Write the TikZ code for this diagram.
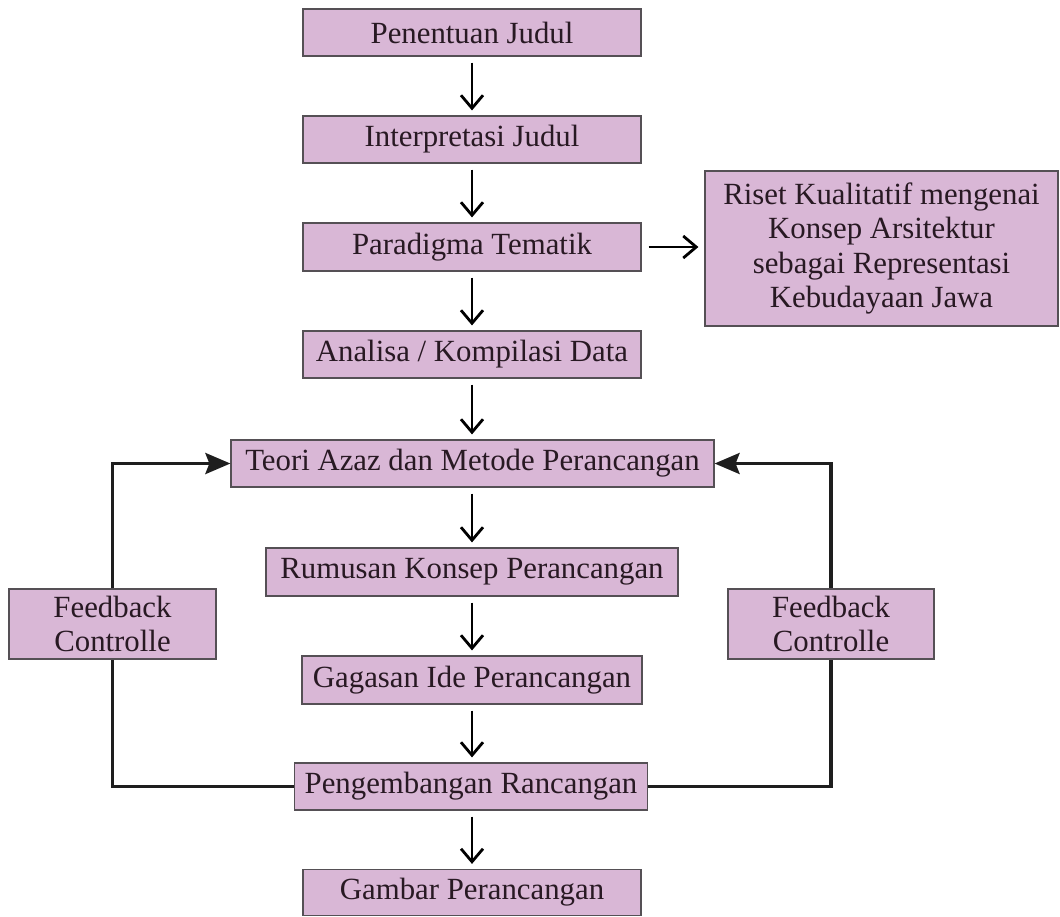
\documentclass[tikz,border=0pt]{standalone}
\usepackage{fontspec}
\setmainfont{Liberation Serif}
\usetikzlibrary{arrows.meta}
\definecolor{boxfill}{RGB}{217,183,214}
\definecolor{boxline}{RGB}{85,80,85}
\definecolor{txt}{RGB}{40,25,35}
\definecolor{conn}{RGB}{30,30,30}
\begin{document}
\begin{tikzpicture}[x=0.5pt,y=-0.5pt,
  box/.style={draw=boxline, fill=boxfill, line width=0.6pt, inner sep=0pt,
    align=center, text=txt, font=\fontsize{15.4}{17.3}\selectfont,
    minimum height=23.5pt},
  flow/.style={draw=black, line width=1.4pt, -{Straight Barb[length=6.5pt,width=11pt,line width=1.4pt]},
    shorten <=3pt, shorten >=2.5pt},
  fb/.style={draw=conn, line width=1.7pt},
  fbarrow/.style={fb, -{Stealth[length=12.5pt,width=10.5pt,inset=2pt]}}]
\useasboundingbox (0,0) rectangle (1060,916);
\node[box, minimum width=169pt] (n1) at (472,32.5) {Penentuan Judul};
\node[box, minimum width=169pt] (n2) at (472,139.5) {Interpretasi Judul};
\node[box, minimum width=169pt, minimum height=24pt] (n3) at (472,247) {Paradigma Tematik};
\node[box, minimum width=169pt] (n4) at (472,354.5) {Analisa / Kompilasi Data};
\node[box, minimum width=241.5pt] (n5) at (472.5,463.5) {Teori Azaz dan Metode Perancangan};
\node[box, minimum width=206pt, minimum height=24pt] (n6) at (472,572) {Rumusan Konsep Perancangan};
\node[box, minimum width=170pt, minimum height=24pt] (n7) at (472,680) {Gagasan Ide Perancangan};
\node[box, minimum width=176.5pt] (n8) at (471,786.5) {Pengembangan Rancangan};
\node[box, minimum width=169pt, minimum height=23pt] (n9) at (472,892.5) {Gambar Perancangan};
\node[box, minimum width=176.5pt, minimum height=77.5pt] (riset) at (881.5,248.5)
  {Riset Kualitatif mengenai\\Konsep Arsitektur\\sebagai Representasi\\Kebudayaan Jawa};
\node[box, minimum width=103.5pt, minimum height=35pt] (fbl) at (112.5,624) {Feedback\\Controlle};
\node[box, minimum width=103pt, minimum height=35pt] (fbr) at (831,624) {Feedback\\Controlle};
\draw[flow] (n1) -- (n2);
\draw[flow] (n2) -- (n3);
\draw[flow] (n3) -- (n4);
\draw[flow] (n4) -- (n5.north -| n4.south);
\draw[flow] (n5.south -| n4.south) -- (n6);
\draw[flow] (n6) -- (n7);
\draw[flow] (n7.south) -- (n7.south |- n8.north);
\draw[flow] (n8.south -| n9.north) -- (n9.north);
\draw[flow, shorten <=3.5pt, shorten >=3pt] (n3.east) -- (n3.east -| riset.west);
\draw[fb] (n8.west) -| (fbl.south);
\draw[fbarrow] (fbl.north) |- (n5.west);
\draw[fb] (n8.east) -| (fbr.south);
\draw[fbarrow] (fbr.north) |- (n5.east);
\end{tikzpicture}
\end{document}
